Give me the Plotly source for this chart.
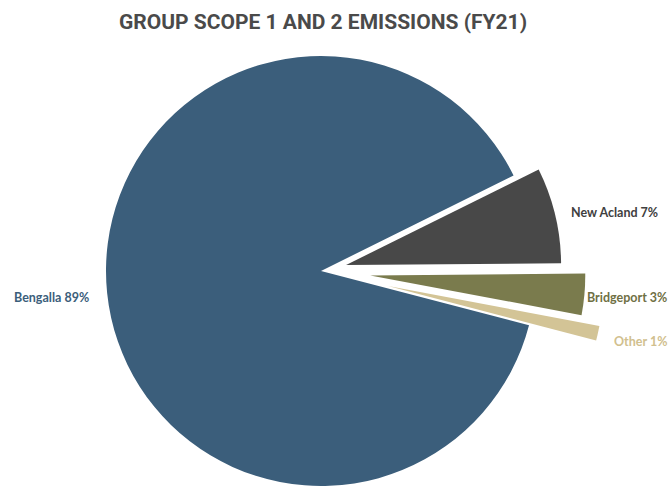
import math
import plotly.graph_objects as go

# ---- data ----
labels = ["New Acland", "Bridgeport", "Other", "Bengalla"]
values = [7.2, 3.1, 1.1, 88.6]
label_pct = ["7%", "3%", "1%", "89%"]
pulls = [0.12, 0.23, 0.32, 0.0]
colors = ["#484848", "#7a7b4d", "#d3c496", "#3b5e7b"]

# ---- layout geometry ----
W, H = 670, 510
cx, cy, r = 321, 271, 215
start_deg = 26.4  # first slice starts this many degrees above 3 o'clock (math angle)
rotation = 90 - start_deg

fig = go.Figure()
total = sum(values)
acc = 0.0
for i, lab in enumerate(labels):
    frac = values[i] / total
    mid = start_deg - 360 * (acc + frac / 2)  # math angle of slice middle
    acc += frac
    off = pulls[i] * r
    pcx = cx + off * math.cos(math.radians(mid))
    pcy = cy - off * math.sin(math.radians(mid))
    cols = [colors[j] if j == i else "rgba(0,0,0,0)" for j in range(len(labels))]
    fig.add_trace(go.Pie(
        labels=labels, values=values, sort=False, direction="clockwise",
        rotation=rotation, textinfo="none", hoverinfo="label+percent",
        marker=dict(colors=cols, line=dict(width=0)),
        domain=dict(x=[(pcx - r) / W, (pcx + r) / W],
                    y=[1 - (pcy + r) / H, 1 - (pcy - r) / H]),
        showlegend=False,
    ))

# label positions (pixels from top-left) and colours
lab_pos = [(569, 212), (585, 297), (612, 341), (12, 297)]
lab_cols = ["#404040", "#6f7044", "#d1c08e", "#3b5e7b"]
font_fam = "Lato, 'Open Sans', sans-serif"
for i, lab in enumerate(labels):
    x, y = lab_pos[i]
    fig.add_annotation(
        text=f"<b>{lab} {label_pct[i]}</b>", x=x / W, y=1 - y / H,
        xref="paper", yref="paper", xanchor="left", yanchor="middle",
        showarrow=False, font=dict(size=12.5, color=lab_cols[i], family=font_fam),
    )

fig.update_layout(
    width=W, height=H,
    margin=dict(l=0, r=0, t=0, b=0),
    paper_bgcolor="white", plot_bgcolor="white",
    title=dict(text="<b>GROUP SCOPE 1 AND 2 EMISSIONS (FY21)</b>",
               x=323 / W, xanchor="center", y=1 - 22 / H, yanchor="middle",
               font=dict(size=21, color="#4a4a4a", family="Roboto, sans-serif")),
)

fig.write_html(
    "out.html",
    config={"displayModeBar": False},
    post_script="document.documentElement.style.overflow='hidden';document.body.style.overflow='hidden';",
)
